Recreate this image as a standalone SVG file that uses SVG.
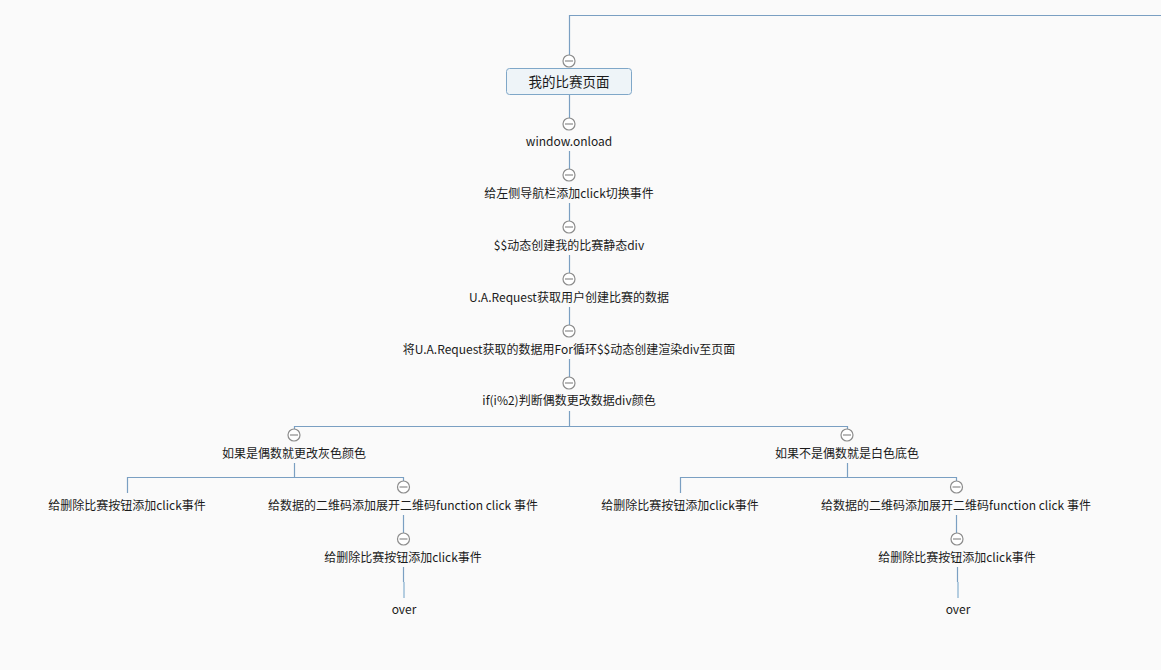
<svg xmlns="http://www.w3.org/2000/svg" width="1161" height="670" viewBox="0 0 1161 670">
<defs>
<style>
.bg{fill:#fafafa}
.ln{stroke:#7a9fc2;stroke-width:1.2;fill:none}
.fade{stroke:#b4cde0;stroke-width:2;fill:none}
.t{font-family:"Microsoft YaHei","Noto Sans CJK SC","Noto Sans",sans-serif;font-size:12px;fill:#1a1a1a;text-anchor:middle}
.bt{font-size:13.5px}
.box{fill:#eef4f8;stroke:#7fa7c8;stroke-width:1}
</style>
<g id="col">
<circle cx="0" cy="0" r="6" fill="#ffffff" stroke="#8c8c8c" stroke-width="1.2"/>
<line x1="-4" y1="0" x2="4" y2="0" stroke="#8c8c8c" stroke-width="1.2"/>
</g>
</defs>
<rect class="bg" x="0" y="0" width="1161" height="670"/>
<g id="connectors">
<path class="ln" d="M1161 15.5 H569.5 V55"/>
<path class="ln" d="M569.5 95 V118"/>
<path class="ln" d="M569.5 151 V169"/>
<path class="ln" d="M569.5 203 V221"/>
<path class="ln" d="M569.5 255 V273"/>
<path class="ln" d="M569.5 307 V325"/>
<path class="ln" d="M569.5 359 V377"/>
<path class="ln" d="M569.5 411 V426.5"/>
<path class="ln" d="M294.5 429 V426.5 H847.5 V429"/>
<path class="ln" d="M294.5 463 V477.5"/>
<path class="ln" d="M127.5 493 V477.5 H403.5 V481"/>
<path class="ln" d="M403.5 515 V533"/>
<path class="ln" d="M403.5 567 V582"/>
<path class="fade" d="M404 582 V598"/>
<path class="ln" d="M847.5 463 V477.5"/>
<path class="ln" d="M680.5 493 V477.5 H956.5 V481"/>
<path class="ln" d="M956.5 515 V533"/>
<path class="ln" d="M957.5 567 V582"/>
<path class="fade" d="M958 582 V598"/>
</g>
<g id="n0">
<use href="#col" x="569" y="61"/>
<rect class="box" x="506.5" y="68.5" width="125" height="26" rx="3"/>
<text class="t bt" x="569" y="86.5">我的比赛页面</text>
</g>
<g id="n1"><use href="#col" x="569" y="124"/><text class="t" x="569" y="145.5">window.onload</text></g>
<g id="n2"><use href="#col" x="569" y="175"/><text class="t" x="569" y="197.5">给左侧导航栏添加click切换事件</text></g>
<g id="n3"><use href="#col" x="569" y="227"/><text class="t" x="569" y="250">$$动态创建我的比赛静态div</text></g>
<g id="n4"><use href="#col" x="569" y="279"/><text class="t" x="569" y="302">U.A.Request获取用户创建比赛的数据</text></g>
<g id="n5"><use href="#col" x="569" y="331"/><text class="t" x="569" y="354">将U.A.Request获取的数据用For循环$$动态创建渲染div至页面</text></g>
<g id="n6"><use href="#col" x="569" y="383"/><text class="t" x="569" y="405">if(i%2)判断偶数更改数据div颜色</text></g>
<g id="n7"><use href="#col" x="294" y="435"/><text class="t" x="294" y="457.5">如果是偶数就更改灰色颜色</text></g>
<g id="n8"><text class="t" x="127" y="510">给删除比赛按钮添加click事件</text></g>
<g id="n9"><use href="#col" x="403.5" y="487"/><text class="t" x="403" y="509.5">给数据的二维码添加展开二维码function click 事件</text></g>
<g id="n10"><use href="#col" x="403.5" y="539"/><text class="t" x="403" y="562">给删除比赛按钮添加click事件</text></g>
<g id="n11"><text class="t" x="404" y="614">over</text></g>
<g id="n12"><use href="#col" x="847" y="435"/><text class="t" x="847" y="457.5">如果不是偶数就是白色底色</text></g>
<g id="n13"><text class="t" x="680" y="510">给删除比赛按钮添加click事件</text></g>
<g id="n14"><use href="#col" x="956.5" y="487"/><text class="t" x="956" y="509.5">给数据的二维码添加展开二维码function click 事件</text></g>
<g id="n15"><use href="#col" x="957" y="539"/><text class="t" x="957" y="562">给删除比赛按钮添加click事件</text></g>
<g id="n16"><text class="t" x="958" y="614">over</text></g>
</svg>
